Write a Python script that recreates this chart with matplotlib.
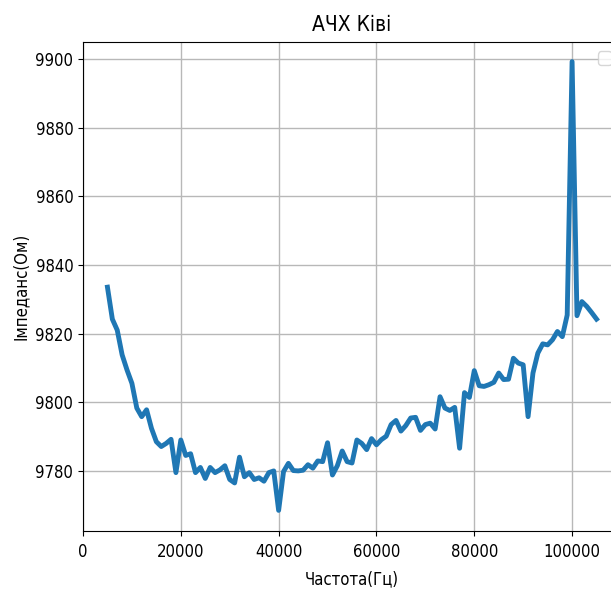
import matplotlib
matplotlib.use("Agg")
import matplotlib.pyplot as plt

plt.rcParams['font.family'] = ['DejaVu Sans']
plt.rcParams['font.stretch'] = 'condensed'

freq_khz = list(range(5, 106))
impedance = [
    9833.5, 9824.2, 9821.0, 9813.8, 9809.4, 9805.5, 9798.3, 9795.8, 9797.8, 9792.4,   # 5-14
    9788.5, 9787.1, 9788.0, 9789.2, 9779.5, 9789.0, 9784.5, 9785.0, 9779.5, 9781.0,   # 15-24
    9777.8, 9781.0, 9779.5, 9780.3, 9781.5, 9777.5, 9776.5, 9784.0, 9778.3, 9779.5,   # 25-34
    9777.5, 9778.0, 9777.0, 9779.5, 9780.0, 9768.5, 9779.8, 9782.2, 9780.1, 9780.0,   # 35-44
    9780.2, 9781.8, 9780.8, 9782.9, 9782.7, 9788.2, 9778.8, 9781.5, 9785.8, 9782.7,   # 45-54
    9782.3, 9789.0, 9788.0, 9786.2, 9789.4, 9787.6, 9789.1, 9790.1, 9793.5, 9794.7,   # 55-64
    9791.6, 9793.2, 9795.4, 9795.6, 9791.8, 9793.5, 9793.9, 9792.2, 9801.6, 9798.3,   # 65-74
    9797.6, 9798.5, 9786.6, 9802.8, 9801.4, 9809.2, 9804.8, 9804.6, 9805.1, 9805.8,   # 75-84
    9808.5, 9806.6, 9806.7, 9812.8, 9811.4, 9810.9, 9795.8, 9808.5, 9814.3, 9817.0,   # 85-94
    9816.7, 9818.2, 9820.6, 9819.1, 9825.4, 9899.2, 9825.2, 9829.3, 9827.9, 9826.1,   # 95-104
    9824.2,                                                                            # 105
]
freq_hz = [k * 1000 for k in freq_khz]

title = "АЧХ Ківі"
xlabel = "Частота(Гц)"
ylabel = "Імпеданс(Ом)"

fig = plt.figure(figsize=(6.11, 5.90), dpi=100)
ax = fig.add_axes([83 / 611, 59 / 590, 538 / 611, 489 / 590])
ax.plot(freq_hz, impedance, color='#1f77b4', linewidth=3.5)
ax.set_xlim(0, 110000)
ax.set_ylim(9762.5, 9904.9)
ax.set_xticks([0, 20000, 40000, 60000, 80000, 100000])
ax.set_yticks([9780, 9800, 9820, 9840, 9860, 9880, 9900])
ax.tick_params(labelsize=12)
ax.tick_params(axis='x', pad=5)
ax.grid(True, color='#b8b8b8', linewidth=1.0)
ax.set_title(title, fontsize=15, pad=8)
ax.set_xlabel(xlabel, fontsize=12, labelpad=7)
ax.set_ylabel(ylabel, fontsize=12, labelpad=4)
ax.legend(fontsize=13)
fig.savefig("out.png", dpi=100)
